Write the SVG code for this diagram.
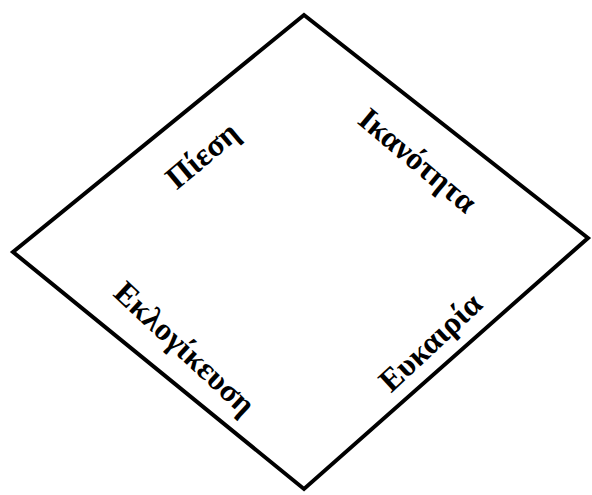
<svg xmlns="http://www.w3.org/2000/svg" width="592" height="495" viewBox="0 0 592 495">
<style>
.lbl{font-family:"Liberation Serif","Times New Roman",serif;font-weight:bold;font-size:32px;fill:#000;text-anchor:middle;dominant-baseline:central}
.edge{fill:none;stroke:#000;stroke-width:4;stroke-linejoin:miter}
</style>
<rect width="592" height="495" fill="#fff"/>
<g id="connectors">
<polygon class="edge" points="304,15 588,238 304,489 13,252"/>
</g>
<g id="node-piesi"><text class="lbl" transform="translate(202,155) rotate(-40)">Πίεση</text></g>
<g id="node-ikanotita"><text class="lbl" transform="translate(418,160) rotate(40)">Ικανότητα</text></g>
<g id="node-eklogikeusi"><text class="lbl" transform="translate(185,348) rotate(43)">Εκλογίκευση</text></g>
<g id="node-eukairia"><text class="lbl" transform="translate(430,342) rotate(-43)">Ευκαιρία</text></g>
</svg>
